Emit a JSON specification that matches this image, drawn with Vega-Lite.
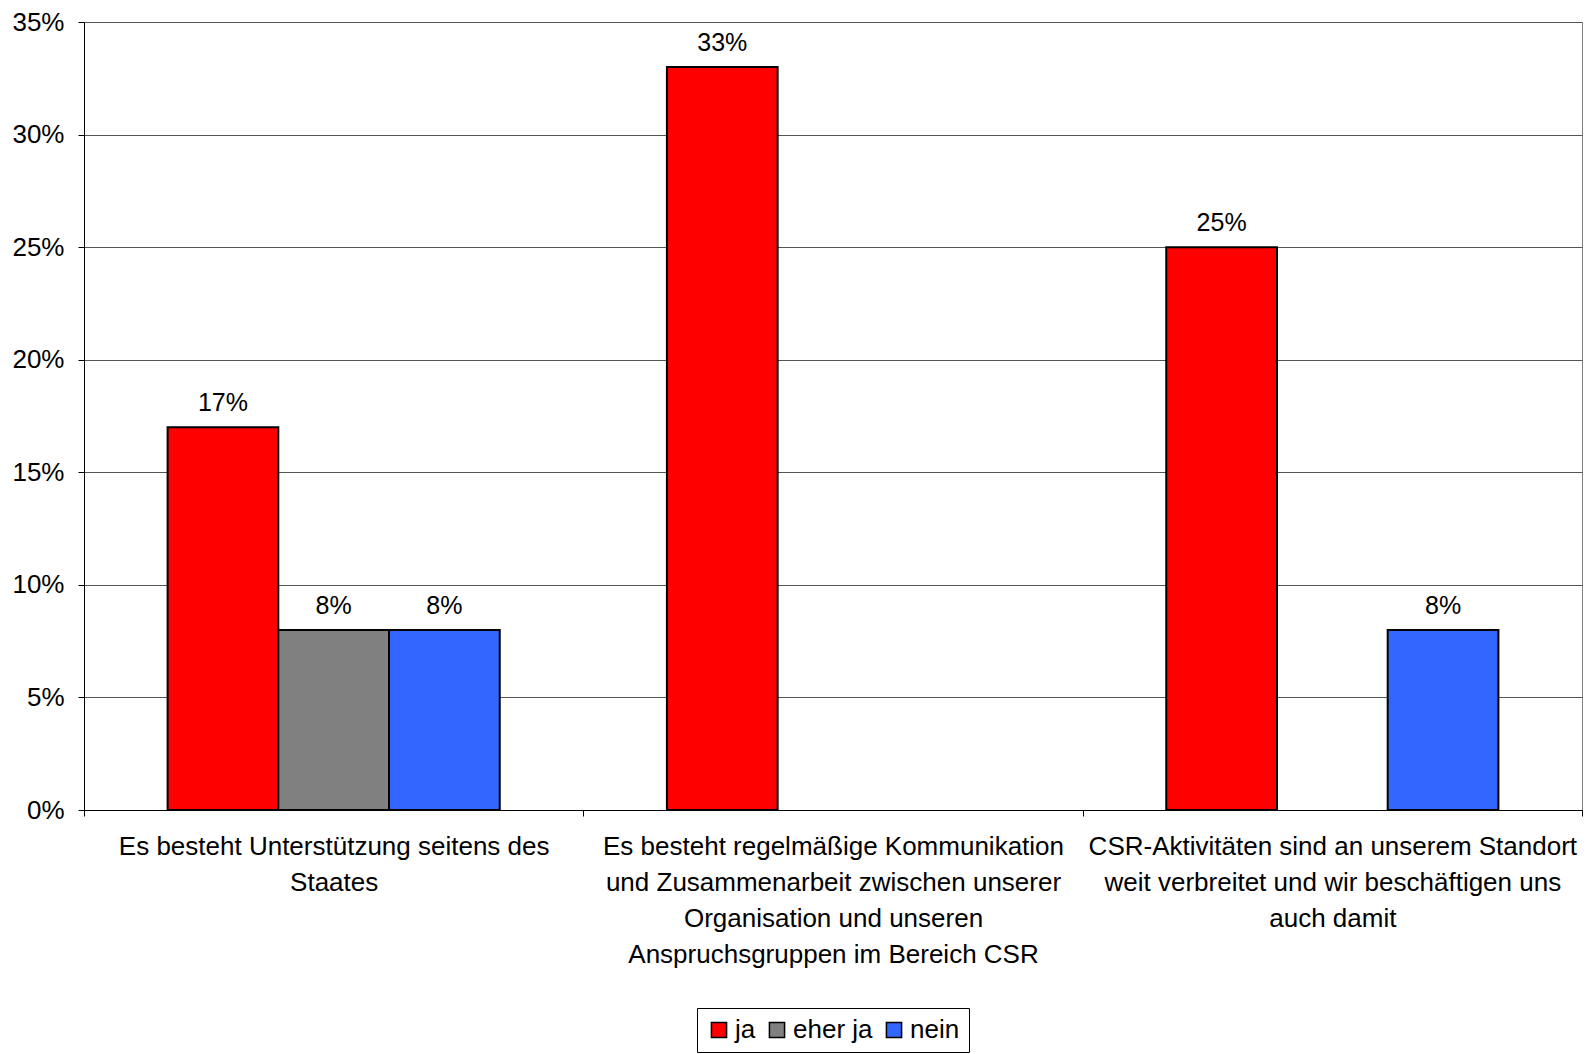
{
  "$schema": "https://vega.github.io/schema/vega-lite/v6.json",
  "width": 1498,
  "height": 788,
  "autosize": {"type": "none"},
  "padding": {"left": 84, "top": 22, "right": 4, "bottom": 244},
  "background": "white",
  "config": {
    "font": "Liberation Sans",
    "view": {"stroke": "#808080", "strokeWidth": 1}
  },
  "data": {
    "values": [
      {"cat": "Es besteht Unterstützung seitens des|Staates", "series": "ja", "value": 0.17},
      {"cat": "Es besteht Unterstützung seitens des|Staates", "series": "eher ja", "value": 0.08},
      {"cat": "Es besteht Unterstützung seitens des|Staates", "series": "nein", "value": 0.08},
      {"cat": "Es besteht regelmäßige Kommunikation|und Zusammenarbeit zwischen unserer|Organisation und unseren|Anspruchsgruppen im Bereich CSR", "series": "ja", "value": 0.33},
      {"cat": "CSR-Aktivitäten sind an unserem Standort|weit verbreitet und wir beschäftigen uns|auch damit", "series": "ja", "value": 0.25},
      {"cat": "CSR-Aktivitäten sind an unserem Standort|weit verbreitet und wir beschäftigen uns|auch damit", "series": "nein", "value": 0.08}
    ]
  },
  "encoding": {
    "x": {
      "field": "cat",
      "type": "nominal",
      "sort": null,
      "title": null,
      "scale": {"paddingInner": 0, "paddingOuter": 0},
      "axis": {
        "labelAngle": 0,
        "labelFontSize": 26,
        "labelColor": "black",
        "labelLineHeight": 36,
        "labelExpr": "isValid(datum.value) ? split(datum.value, '|') : ''",
        "labelLimit": 0,
        "labelPadding": 17,
        "tickBand": "extent",
        "tickSize": 6,
        "tickColor": "black",
        "domainColor": "black",
        "grid": false
      }
    },
    "xOffset": {
      "field": "series",
      "type": "nominal",
      "scale": {"domain": ["ja", "eher ja", "nein"], "paddingInner": 0, "paddingOuter": 0.755}
    },
    "y": {
      "field": "value",
      "type": "quantitative",
      "title": null,
      "scale": {"domain": [0, 0.35], "nice": false},
      "axis": {
        "values": [0, 0.05, 0.1, 0.15, 0.2, 0.25, 0.3, 0.35],
        "format": ".0%",
        "labelFontSize": 26,
        "labelColor": "black",
        "labelPadding": 14,
        "tickSize": 6,
        "tickColor": "black",
        "domainColor": "black",
        "gridColor": "#555555",
        "gridWidth": 1
      }
    }
  },
  "layer": [
    {
      "mark": {"type": "bar", "stroke": "black", "strokeWidth": 2},
      "encoding": {
        "color": {
          "field": "series",
          "type": "nominal",
          "scale": {"domain": ["ja", "eher ja", "nein"], "range": ["#FF0000", "#808080", "#3366FF"]},
          "legend": {
            "title": null,
            "orient": "none",
            "legendX": 613,
            "legendY": 986,
            "direction": "horizontal",
            "labelFontSize": 26,
            "labelColor": "black",
            "symbolType": "square",
            "symbolSize": 230,
            "symbolStrokeColor": "black",
            "symbolStrokeWidth": 1.5,
            "symbolOpacity": 1,
            "labelOffset": 3,
            "columnPadding": 8,
            "strokeColor": "black",
            "fillColor": "white",
            "padding": 9
          }
        }
      }
    },
    {
      "mark": {"type": "text", "fontSize": 25, "color": "black", "baseline": "alphabetic", "dy": -16},
      "encoding": {
        "text": {"field": "value", "type": "quantitative", "format": ".0%"}
      }
    }
  ]
}
